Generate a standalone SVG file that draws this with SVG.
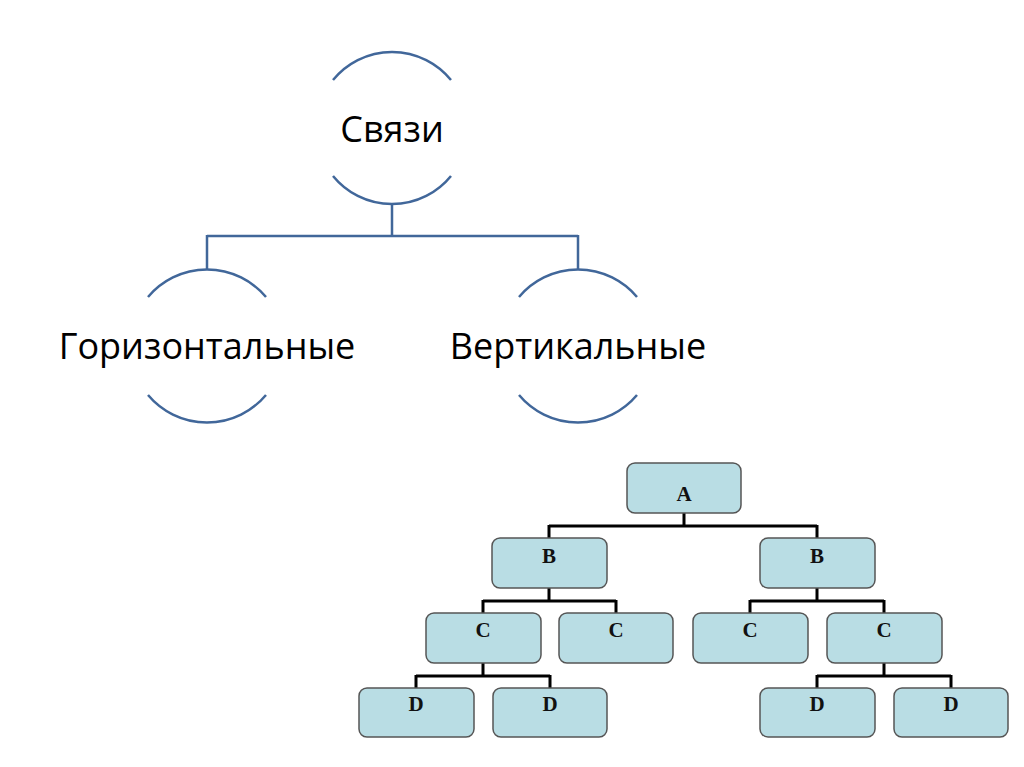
<svg xmlns="http://www.w3.org/2000/svg" width="1024" height="767" viewBox="0 0 1024 767">
<style>
.arc{fill:none;stroke:#41679a;stroke-width:2.5}
.lbl{font-family:"Open Sans","Noto Sans","Liberation Sans",sans-serif;font-size:36px;fill:#000;text-anchor:middle}
.box{fill:#b9dde4;stroke:#555;stroke-width:1.5}
.bl{font-family:"Liberation Serif",serif;font-weight:bold;font-size:21px;fill:#111;text-anchor:middle}
.tl{fill:none;stroke:#000;stroke-width:3}
</style>
<rect width="1024" height="767" fill="#fff"/>
<g id="connectors">
<path class="arc" d="M392 204V236M207 236H578M207 235V269M578 235V269"/>
<path class="tl" d="M684 513V526M549 526H817M549 525V538M817 525V538M549 588V601M483 601H616M483 600V613M616 600V613M817 588V601M750 601H884M750 600V613M884 600V613M483 663V676M416 676H550M416 675V688M550 675V688M884 663V676M817 676H951M817 675V688M951 675V688"/>
</g>
<g id="svyazi">
<path class="arc" d="M333 80A76 76 0 0 1 451 80M333 176A76 76 0 0 0 451 176"/>
<text class="lbl" x="392" y="142">Связи</text>
</g>
<g id="horiz">
<path class="arc" d="M148 297A77 77 0 0 1 266 297M148 395A77 77 0 0 0 266 395"/>
<text class="lbl" x="207" y="359">Горизонтальные</text>
</g>
<g id="vert">
<path class="arc" d="M519 297A77 77 0 0 1 637 297M519 395A77 77 0 0 0 637 395"/>
<text class="lbl" x="578" y="359">Вертикальные</text>
</g>
<g id="A"><rect class="box" x="627" y="463" width="114" height="50" rx="8"/><text class="bl" x="684" y="501">A</text></g>
<g id="B1"><rect class="box" x="492" y="538" width="115" height="50" rx="8"/><text class="bl" x="549" y="563">B</text></g>
<g id="B2"><rect class="box" x="760" y="538" width="115" height="50" rx="8"/><text class="bl" x="817" y="563">B</text></g>
<g id="C1"><rect class="box" x="426" y="613" width="115" height="50" rx="8"/><text class="bl" x="483" y="637">C</text></g>
<g id="C2"><rect class="box" x="559" y="613" width="114" height="50" rx="8"/><text class="bl" x="616" y="637">C</text></g>
<g id="C3"><rect class="box" x="693" y="613" width="115" height="50" rx="8"/><text class="bl" x="750" y="637">C</text></g>
<g id="C4"><rect class="box" x="827" y="613" width="115" height="50" rx="8"/><text class="bl" x="884" y="637">C</text></g>
<g id="D1"><rect class="box" x="359" y="688" width="115" height="49" rx="8"/><text class="bl" x="416" y="711">D</text></g>
<g id="D2"><rect class="box" x="493" y="688" width="114" height="49" rx="8"/><text class="bl" x="550" y="711">D</text></g>
<g id="D3"><rect class="box" x="760" y="688" width="115" height="49" rx="8"/><text class="bl" x="817" y="711">D</text></g>
<g id="D4"><rect class="box" x="894" y="688" width="114" height="49" rx="8"/><text class="bl" x="951" y="711">D</text></g>
</svg>
